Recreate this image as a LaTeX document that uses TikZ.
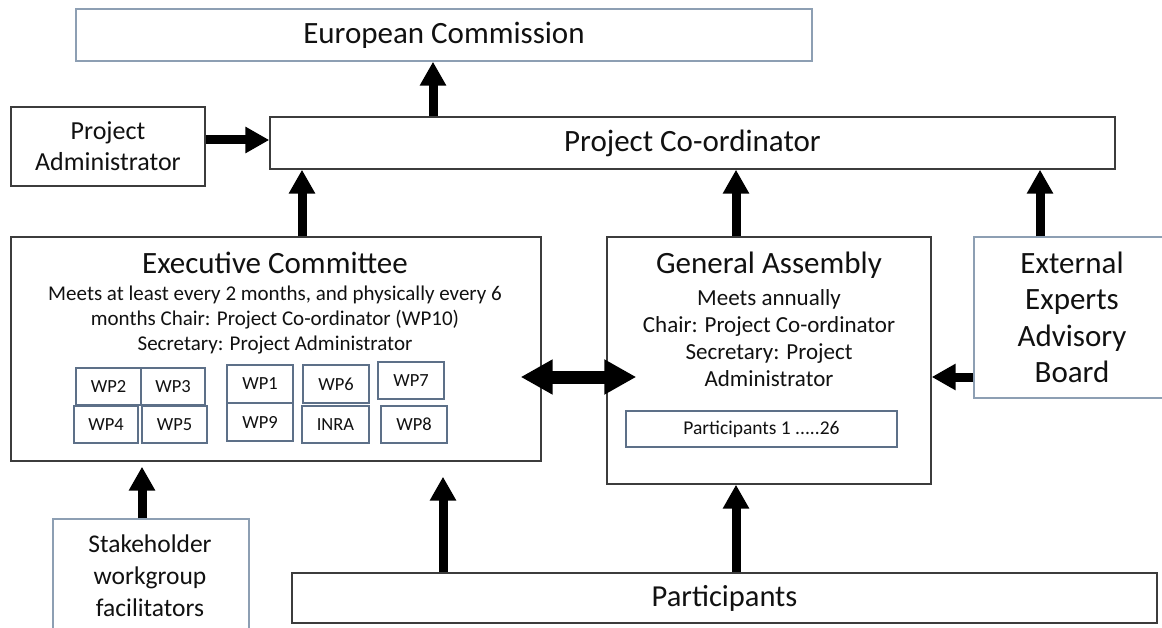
\documentclass[tikz,border=0pt]{standalone}
\usepackage{fontspec}
\setmainfont{Carlito}
\usetikzlibrary{arrows.meta}
\definecolor{dk}{HTML}{3C3C3C}
\definecolor{bl}{HTML}{8D9FB3}
\definecolor{wpb}{HTML}{5D7088}
\definecolor{txt}{HTML}{111111}
\newcommand\fsz[2]{\fontsize{#1}{#2}\selectfont}
\begin{document}
\begin{tikzpicture}[x=1pt,y=-1pt,
  box/.style={draw=dk,line width=1.4pt,fill=white,inner sep=0pt,text=txt},
  bbox/.style={draw=bl,line width=1.4pt,fill=white,inner sep=0pt,text=txt},
  wpbox/.style={draw=wpb,line width=1.2pt,fill=white,inner sep=0pt,text=txt,font=\fsz{18.5}{20}},
  lbl/.style={inner sep=0pt,text=txt,align=center},
  arr/.style={line width=9pt,-{Triangle[length=24pt,width=25pt]}},
  darr/.style={line width=13pt,{Triangle[length=32pt,width=33pt]}-{Triangle[length=32pt,width=33pt]}}]
\useasboundingbox (0,0) rectangle (1162,628);
\clip (0,0) rectangle (1162,628);
\fill[white] (0,0) rectangle (1162,628);

% boxes
\node[bbox,minimum width=736pt,minimum height=52pt,font=\fsz{31}{36}] (ec) at (444,35) {European Commission};
\node[box,minimum width=845pt,minimum height=52pt,font=\fsz{31}{36}] (pc) at (692.5,143) {Project Co-ordinator};
\node[box,minimum width=194pt,minimum height=79pt,font=\fsz{26}{31},align=center] (pa) at (108,146.5) {Project\\Administrator};
\node[box,minimum width=530pt,minimum height=224pt] (exec) at (276,349) {};
\node[box,minimum width=324pt,minimum height=247pt] (ga) at (769,360.5) {};
\node[bbox,minimum width=206pt,minimum height=161pt] (eeab) at (1077,317.5) {};
\node[bbox,minimum width=196pt,minimum height=125pt] (sh) at (151,581.5) {};
\node[box,minimum width=865pt,minimum height=50pt,font=\fsz{30.5}{36}] (part) at (724.5,598) {Participants};

% texts
\node[lbl,font=\fsz{31}{36}] (exect) at (275,263) {Executive Committee};
\node[lbl,font=\fsz{21}{25}] (execb) at (275,320) {Meets at least every 2 months, and physically every 6\\months Chair: Project Co-ordinator (WP10)\\Secretary: Project Administrator};
\node[lbl,font=\fsz{31}{36}] (gat) at (769,265) {General Assembly};
\node[lbl,font=\fsz{23}{27}] (gab) at (769,338) {Meets annually\\Chair: Project Co-ordinator\\Secretary: Project\\Administrator};
\node[wpbox,draw=wpb,minimum width=271pt,minimum height=36pt,font=\fsz{19.5}{22}] (p126) at (761.5,429) {Participants 1 .....26};
\node[lbl,font=\fsz{31}{36.5}] (eeabt) at (1072,317.5) {External\\Experts\\Advisory\\Board};
\node[lbl,font=\fsz{25.5}{32}] (sht) at (150,576) {Stakeholder\\workgroup\\facilitators};

% WP boxes
\node[wpbox,minimum width=65pt,minimum height=37pt] (wp2) at (108.5,386.5) {WP2};
\node[wpbox,minimum width=64pt,minimum height=37pt] (wp3) at (173,386.5) {WP3};
\node[wpbox,minimum width=64pt,minimum height=37pt] (wp4) at (106,424.5) {WP4};
\node[wpbox,minimum width=65pt,minimum height=37pt] (wp5) at (174.5,424.5) {WP5};
\node[wpbox,minimum width=66pt,minimum height=38pt] (wp1) at (260,384) {WP1};
\node[wpbox,minimum width=66pt,minimum height=38pt] (wp9) at (260,422) {WP9};
\node[wpbox,minimum width=66pt,minimum height=38pt] (wp6) at (336,384) {WP6};
\node[wpbox,minimum width=67pt,minimum height=37pt] (inra) at (335.5,424.5) {INRA};
\node[wpbox,minimum width=66pt,minimum height=37pt] (wp7) at (411,380.5) {WP7};
\node[wpbox,minimum width=66pt,minimum height=37pt] (wp8) at (414,424.5) {WP8};

% arrow guide coordinates
\coordinate (xa) at (433,0);
\coordinate (xb) at (302,0);
\coordinate (xc) at (736,0);
\coordinate (xd) at (1040,0);
\coordinate (xe) at (142,0);
\coordinate (xf) at (443,0);
\coordinate (ya) at (0,140);
\coordinate (yb) at (0,377);

% arrows
\draw[arr] (pc.north -| xa) -- (ec.south -| xa);
\draw[arr] (pa.east |- ya) -- (pc.west |- ya);
\draw[arr] (exec.north -| xb) -- (pc.south -| xb);
\draw[arr] (ga.north -| xc) -- (pc.south -| xc);
\draw[arr] (eeab.north -| xd) -- (pc.south -| xd);
\draw[arr] (eeab.west |- yb) -- (ga.east |- yb);
\draw[arr,shorten >=5pt] (sh.north -| xe) -- (exec.south -| xe);
\draw[arr,shorten >=15pt] (part.north -| xf) -- (exec.south -| xf);
\draw[arr] (part.north -| xc) -- (ga.south -| xc);
\draw[darr,shorten <=-21pt,shorten >=-30pt] (exec.east |- yb) -- (ga.west |- yb);
\end{tikzpicture}
\end{document}
